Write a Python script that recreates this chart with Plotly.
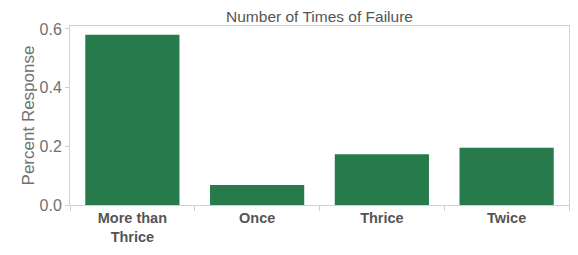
import plotly.graph_objects as go

categories = ["More than<br>Thrice", "Once", "Thrice", "Twice"]
values = [0.58, 0.068, 0.173, 0.195]
y_ticks = [0.0, 0.2, 0.4, 0.6]
y_tick_labels = ["0.0", "0.2", "0.4", "0.6"]
x_tick_labels = ["<b>More than</b><br><b>Thrice</b>", "<b>Once</b>", "<b>Thrice</b>", "<b>Twice</b>"]

fig = go.Figure(go.Bar(x=categories, y=values, marker_color="#267a4c", marker_line_width=0))

fig.update_layout(
    width=578, height=255,
    margin=dict(l=70, r=9, t=26, b=50),
    paper_bgcolor="white", plot_bgcolor="white",
    bargap=0.245,
    showlegend=False,
    font=dict(family="Liberation Sans, Arial, sans-serif", color="#555555"),
    title=dict(text="Number of Times of Failure", x=0.5, xanchor="center", y=1 - 17 / 255, yanchor="middle",
               xref="paper", font=dict(size=15.5, color="#555555")),
)
fig.update_xaxes(
    automargin=False,
    showline=True, linecolor="#d0d0d0", linewidth=1, mirror=True,
    ticks="outside", tickson="boundaries", ticklen=5, tickcolor="#d0d0d0",
    tickfont=dict(size=14.5, color="#555555", family="Liberation Sans, Arial, sans-serif"),
    showgrid=False,
    tickmode="array", tickvals=categories, ticktext=x_tick_labels,
)
fig.update_yaxes(
    automargin=False,
    range=[0, 0.61], tickvals=y_ticks, ticktext=y_tick_labels,
    showline=True, linecolor="#d0d0d0", linewidth=1, mirror=True,
    ticks="outside", ticklen=4, tickcolor="#d0d0d0",
    tickfont=dict(size=16, color="#707070"),
    showgrid=False, zeroline=False,
    title=dict(text="Percent Response", font=dict(size=17, color="#707070"), standoff=0),
)
fig.write_html("out.html", config={"displayModeBar": False},
               post_script="document.body.style.margin='0';document.body.style.overflow='hidden';")
